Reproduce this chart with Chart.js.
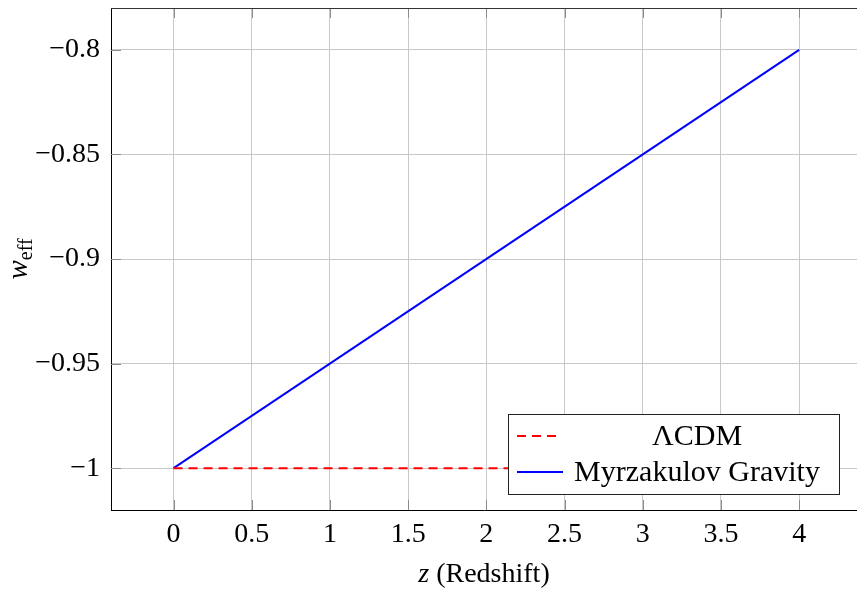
<!DOCTYPE html>
<html>
<head>
<meta charset="utf-8">
<script src="https://cdn.jsdelivr.net/npm/chart.js@4"></script>
<style>
  html, body { margin: 0; padding: 0; background: #fff; overflow: hidden; }
  canvas { display: block; }
</style>
</head>
<body>
<canvas id="weffCanvas" width="857" height="589"></canvas>
<script>
// data
const zValues = [0, 4];
const lcdmW = [-1, -1];
const myrzakulovW = [-1, -0.8];
const xTicks = [0, 0.5, 1, 1.5, 2, 2.5, 3, 3.5, 4];
const yTicks = [-1, -0.95, -0.9, -0.85, -0.8];
const seriesLabels = ['\u039BCDM', 'Myrzakulov Gravity'];

const FONT = 'Liberation Serif';
const GRID = '#c8c8c8';

function fmt(v) {
    let r = Math.round(v * 100) / 100;
    return r < 0 ? '\u2212' + Math.abs(r) : String(r);
}

function toPoints(xs, ys) {
    return xs.map((x, i) => ({x: x, y: ys[i]}));
}

// draws axis titles, inner tick marks, top border and the boxed legend
const decorPlugin = {
    id: 'decor',
    beforeDatasetsDraw(chart) {
        const ctx = chart.ctx;
        const a = chart.chartArea;
        const xs = chart.scales.x, ys = chart.scales.y;
        ctx.save();
        ctx.strokeStyle = '#8c8c8c';
        ctx.lineWidth = 1;
        ctx.beginPath();
        xTicks.forEach(v => {
            let px = Math.round(xs.getPixelForValue(v)) + 0.5;
            ctx.moveTo(px, a.bottom); ctx.lineTo(px, a.bottom - 10);
            ctx.moveTo(px, a.top); ctx.lineTo(px, a.top + 10);
        });
        yTicks.forEach(v => {
            let py = Math.round(ys.getPixelForValue(v)) + 0.5;
            ctx.moveTo(a.left, py); ctx.lineTo(a.left + 10, py);
        });
        ctx.stroke();
        ctx.strokeStyle = '#333';
        ctx.beginPath();
        ctx.moveTo(a.left, a.top + 0.5);
        ctx.lineTo(a.right, a.top + 0.5);
        ctx.stroke();
        ctx.restore();
    },
    afterDraw(chart) {
        const ctx = chart.ctx;
        const a = chart.chartArea;
        ctx.save();
        ctx.fillStyle = '#000';
        ctx.textBaseline = 'alphabetic';

        // x title
        let cx = (a.left + a.right) / 2;
        ctx.font = 'italic 28px "' + FONT + '"';
        let wz = ctx.measureText('z').width;
        ctx.font = '28px "' + FONT + '"';
        let rest = ' (Redshift)';
        let wr = ctx.measureText(rest).width;
        let sx = cx - (wz + wr) / 2;
        ctx.font = 'italic 28px "' + FONT + '"';
        ctx.fillText('z', sx, 582);
        ctx.font = '28px "' + FONT + '"';
        ctx.fillText(rest, sx + wz, 582);

        // y title w_eff
        ctx.translate(27, (a.top + a.bottom) / 2);
        ctx.rotate(-Math.PI / 2);
        ctx.font = 'italic 29px "' + FONT + '"';
        let ww = ctx.measureText('w').width;
        ctx.font = '20px "' + FONT + '"';
        let we = ctx.measureText('eff').width;
        let tx = -(ww + we) / 2;
        ctx.font = 'italic 29px "' + FONT + '"';
        ctx.fillText('w', tx, 0);
        ctx.font = '20px "' + FONT + '"';
        ctx.fillText('eff', tx + ww, 5);
        ctx.setTransform(1, 0, 0, 1, 0, 0);

        // legend
        const box = {x: 508.5, y: 414.5, w: 331, h: 80};
        ctx.fillStyle = '#fff';
        ctx.fillRect(box.x, box.y, box.w, box.h);
        ctx.strokeStyle = '#222';
        ctx.lineWidth = 1;
        ctx.strokeRect(box.x, box.y, box.w, box.h);

        const ds = chart.data.datasets;
        const rows = [436, 472];
        ctx.font = '30px "' + FONT + '"';
        ctx.textAlign = 'center';
        ctx.textBaseline = 'middle';
        rows.forEach((ry, i) => {
            ctx.strokeStyle = ds[i].borderColor;
            ctx.lineWidth = 2;
            ctx.setLineDash(ds[i].borderDash || []);
            ctx.beginPath();
            ctx.moveTo(517, ry);
            ctx.lineTo(i === 0 ? 560 : 563, ry);
            ctx.stroke();
            ctx.setLineDash([]);
            ctx.fillStyle = '#000';
            ctx.fillText(seriesLabels[i], 697, ry + 1);
        });
        ctx.restore();
    }
};

new Chart(document.getElementById('weffCanvas'), {
    type: 'line',
    data: {
        datasets: [
            {
                label: seriesLabels[0],
                data: toPoints(zValues, lcdmW),
                borderColor: '#ff0000',
                borderWidth: 2,
                borderDash: [9, 6],
                pointRadius: 0,
                fill: false
            },
            {
                label: seriesLabels[1],
                data: toPoints(zValues, myrzakulovW),
                borderColor: '#0000ff',
                borderWidth: 2,
                pointRadius: 0,
                fill: false
            }
        ]
    },
    options: {
        responsive: false,
        animation: false,
        devicePixelRatio: 1,
        layout: {padding: {top: 8, left: 0, right: 0, bottom: 0}},
        plugins: {
            legend: {display: false},
            tooltip: {enabled: false}
        },
        scales: {
            x: {
                type: 'linear',
                min: -0.4,
                max: 4.37,
                afterBuildTicks: s => { s.ticks = xTicks.map(v => ({value: v})); },
                afterFit: s => { s.height = 79; s.paddingLeft = 0; s.paddingRight = 0; },
                ticks: {
                    color: '#000',
                    padding: 8,
                    font: {family: FONT, size: 28},
                    callback: v => fmt(v)
                },
                grid: {color: GRID, drawTicks: false},
                border: {color: '#000', width: 1}
            },
            y: {
                min: -1.02,
                max: -0.78,
                afterBuildTicks: s => { s.ticks = yTicks.map(v => ({value: v})); },
                afterFit: s => { s.width = 111; s.paddingTop = 0; s.paddingBottom = 0; },
                ticks: {
                    color: '#000',
                    padding: 11,
                    font: {family: FONT, size: 28},
                    callback: v => fmt(v)
                },
                grid: {color: GRID, drawTicks: false},
                border: {color: '#000', width: 1}
            }
        }
    },
    plugins: [decorPlugin]
});
</script>
</body>
</html>
